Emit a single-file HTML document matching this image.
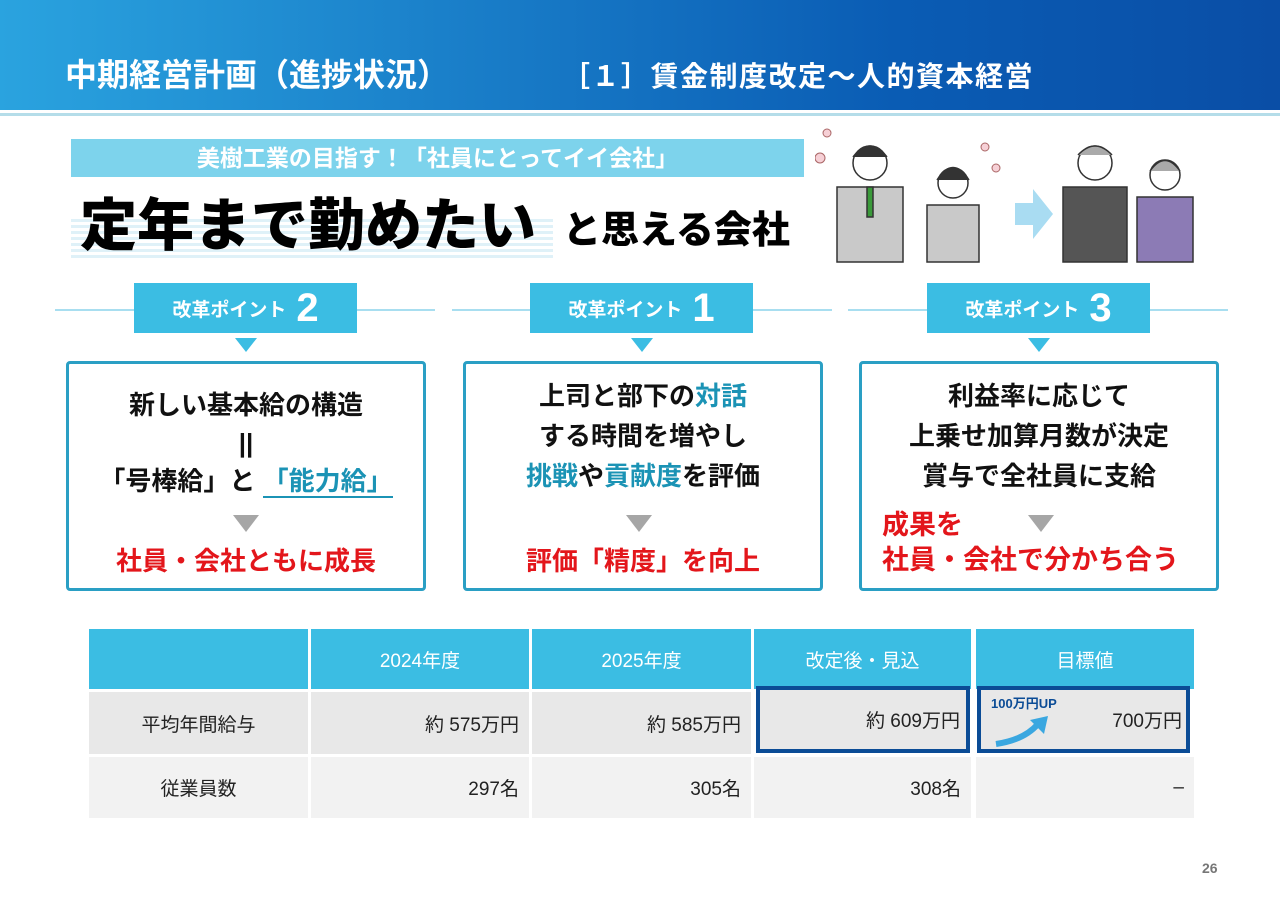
<!DOCTYPE html>
<html><head><meta charset="utf-8"><style>
*{margin:0;padding:0;box-sizing:border-box}
body{width:1280px;height:904px;background:#fff;position:relative;overflow:hidden;font-family:"Liberation Sans","Noto Sans CJK JP",sans-serif}
.a{position:absolute}
.hdr{left:0;top:0;width:1280px;height:110px;background:linear-gradient(90deg,#2aa3df,#0a5cb4 70%,#0a4ea6)}
.badge{height:50px;width:223px;top:283px;background:#3bbde3;color:#fff;font-weight:bold;font-size:19px;display:flex;align-items:center;justify-content:center;gap:10px}
.badge b{font-size:40px}
.tri{width:0;height:0;border-left:11px solid transparent;border-right:11px solid transparent;border-top:14px solid #3bbde3;top:338px}
.gtri{width:0;height:0;border-left:13px solid transparent;border-right:13px solid transparent;border-top:17px solid #a6a6a6}
.box{top:361px;width:360px;height:230px;border:3px solid #2a9fc4;border-radius:4px;background:#fff;text-align:center;font-weight:bold}
.box .t{font-size:26px;line-height:40px;color:#111;margin-top:12px}
.c{color:#1b93b5}.r{color:#e3161b}
.cell{display:flex;align-items:center;font-size:19px;color:#222}
.th{background:#3bbde3;color:#fff;justify-content:center}
.g1{background:#e8e8e8}.g2{background:#f2f2f2}
.rt{justify-content:flex-end;padding-right:10px}
.hl{height:2px;background:#a8def0;top:309px}
</style></head><body>
<div class="a hdr"></div>
<div class="a" style="left:65px;top:50px;color:#fff;font-size:32px;font-weight:bold">中期経営計画（進捗状況）</div>
<div class="a" style="left:562px;top:55px;color:#fff;font-size:28px;font-weight:bold;letter-spacing:1.5px">［１］賃金制度改定～人的資本経営</div>
<div class="a" style="left:0;top:113px;width:1280px;height:3px;background:#b5dde9"></div>

<div class="a" style="left:71px;top:139px;width:733px;height:38px;background:#7dd3ec;color:#fff;font-weight:bold;font-size:23px;text-align:center;line-height:38px">美樹工業の目指す！「社員にとってイイ会社」</div>
<div class="a" style="left:71px;top:218px;width:482px;height:40px;background:repeating-linear-gradient(0deg,#dff1f8 0 3px,#fff 3px 6px)"></div>
<div class="a" style="left:80px;top:180px;font-size:57px;font-weight:900;color:#000">定年まで勤めたい</div>
<div class="a" style="left:563px;top:199px;font-size:38px;font-weight:900;color:#000">と思える会社</div>

<svg class="a" style="left:815px;top:125px" width="390" height="140">
<g fill="#f6d0d6" stroke="#a66" stroke-width="1"><circle cx="12" cy="8" r="4"/><circle cx="5" cy="33" r="5"/><circle cx="170" cy="22" r="4"/><circle cx="181" cy="43" r="4"/></g>
<g stroke="#333" stroke-width="1.5">
<rect x="22" y="62" width="66" height="75" fill="#c9c9c9"/><circle cx="55" cy="38" r="17" fill="#fff"/><path d="M38 32 Q55 10 72 32" fill="#333"/><rect x="52" y="62" width="6" height="30" fill="#3a9a3a"/>
<rect x="112" y="80" width="52" height="57" fill="#c9c9c9"/><circle cx="138" cy="58" r="15" fill="#fff"/><path d="M122 55 Q138 30 154 55" fill="#333"/>
<rect x="248" y="62" width="64" height="75" fill="#555"/><circle cx="280" cy="38" r="17" fill="#fff"/><path d="M263 30 Q280 12 297 30" fill="#aaa"/>
<rect x="322" y="72" width="56" height="65" fill="#8c7bb5"/><circle cx="350" cy="50" r="15" fill="#fff"/><path d="M335 46 Q350 25 365 46" fill="#aaa"/>
</g>
<path d="M200 78 h18 v-14 l20 25 l-20 25 v-14 h-18z" fill="#a9dcf2"/>
</svg>

<div class="a hl" style="left:55px;width:380px"></div>
<div class="a hl" style="left:452px;width:380px"></div>
<div class="a hl" style="left:848px;width:380px"></div>
<div class="a badge" style="left:134px">改革ポイント<b>2</b></div>
<div class="a badge" style="left:530px">改革ポイント<b>1</b></div>
<div class="a badge" style="left:927px">改革ポイント<b>3</b></div>
<div class="a tri" style="left:235px"></div>
<div class="a tri" style="left:631px"></div>
<div class="a tri" style="left:1028px"></div>

<div class="a box" style="left:66px"><div class="t" style="margin-top:22px;line-height:38px">新しい基本給の構造<br>||<br>「号棒給」と <span class="c" style="border-bottom:2px solid #1b93b5">「能力給」</span></div></div>
<div class="a gtri" style="left:233px;top:515px"></div>
<div class="a r" style="left:66px;top:541px;width:360px;text-align:center;font-size:26px;font-weight:bold">社員・会社ともに成長</div>

<div class="a box" style="left:463px"><div class="t">上司と部下の<span class="c">対話</span><br>する時間を増やし<br><span class="c">挑戦</span>や<span class="c">貢献度</span>を評価</div></div>
<div class="a gtri" style="left:626px;top:515px"></div>
<div class="a r" style="left:463px;top:541px;width:360px;text-align:center;font-size:26px;font-weight:bold">評価「精度」を向上</div>

<div class="a box" style="left:859px"><div class="t">利益率に応じて<br>上乗せ加算月数が決定<br>賞与で全社員に支給</div></div>
<div class="a gtri" style="left:1028px;top:515px"></div>
<div class="a r" style="left:882px;top:508px;font-size:27px;font-weight:bold;line-height:35px">成果を<br>社員・会社で分かち合う</div>

<div class="a cell th" style="left:89px;top:629px;width:219px;height:60px"></div>
<div class="a cell th" style="left:311px;top:629px;width:218px;height:60px">2024年度</div>
<div class="a cell th" style="left:532px;top:629px;width:219px;height:60px">2025年度</div>
<div class="a cell th" style="left:754px;top:629px;width:217px;height:60px">改定後・見込</div>
<div class="a cell th" style="left:976px;top:629px;width:218px;height:60px">目標値</div>

<div class="a cell g1" style="left:89px;top:692px;width:219px;height:62px;justify-content:center">平均年間給与</div>
<div class="a cell g1 rt" style="left:311px;top:692px;width:218px;height:62px">約 575万円</div>
<div class="a cell g1 rt" style="left:532px;top:692px;width:219px;height:62px">約 585万円</div>
<div class="a cell g1 rt" style="left:756px;top:686px;width:214px;height:67px;border:4px solid #0b4c96;padding-right:6px">約 609万円</div>
<div class="a cell g1 rt" style="left:977px;top:686px;width:213px;height:67px;border:4px solid #0b4c96;padding-right:4px">700万円</div>
<div class="a" style="left:991px;top:693px;font-size:13px;font-weight:bold;color:#0b4c96">100万円UP</div>
<svg class="a" style="left:994px;top:714px" width="60" height="34"><path d="M2 30 Q30 26 44 10" stroke="#3aa7e0" stroke-width="6" fill="none"/><path d="M36 6 L54 2 L50 20z" fill="#3aa7e0"/></svg>

<div class="a cell g2" style="left:89px;top:757px;width:219px;height:61px;justify-content:center">従業員数</div>
<div class="a cell g2 rt" style="left:311px;top:757px;width:218px;height:61px">297名</div>
<div class="a cell g2 rt" style="left:532px;top:757px;width:219px;height:61px">305名</div>
<div class="a cell g2 rt" style="left:754px;top:757px;width:217px;height:61px">308名</div>
<div class="a cell g2 rt" style="left:976px;top:757px;width:218px;height:61px">–</div>

<div class="a" style="left:1202px;top:860px;font-size:14px;font-weight:bold;color:#777">26</div>
</body></html>
